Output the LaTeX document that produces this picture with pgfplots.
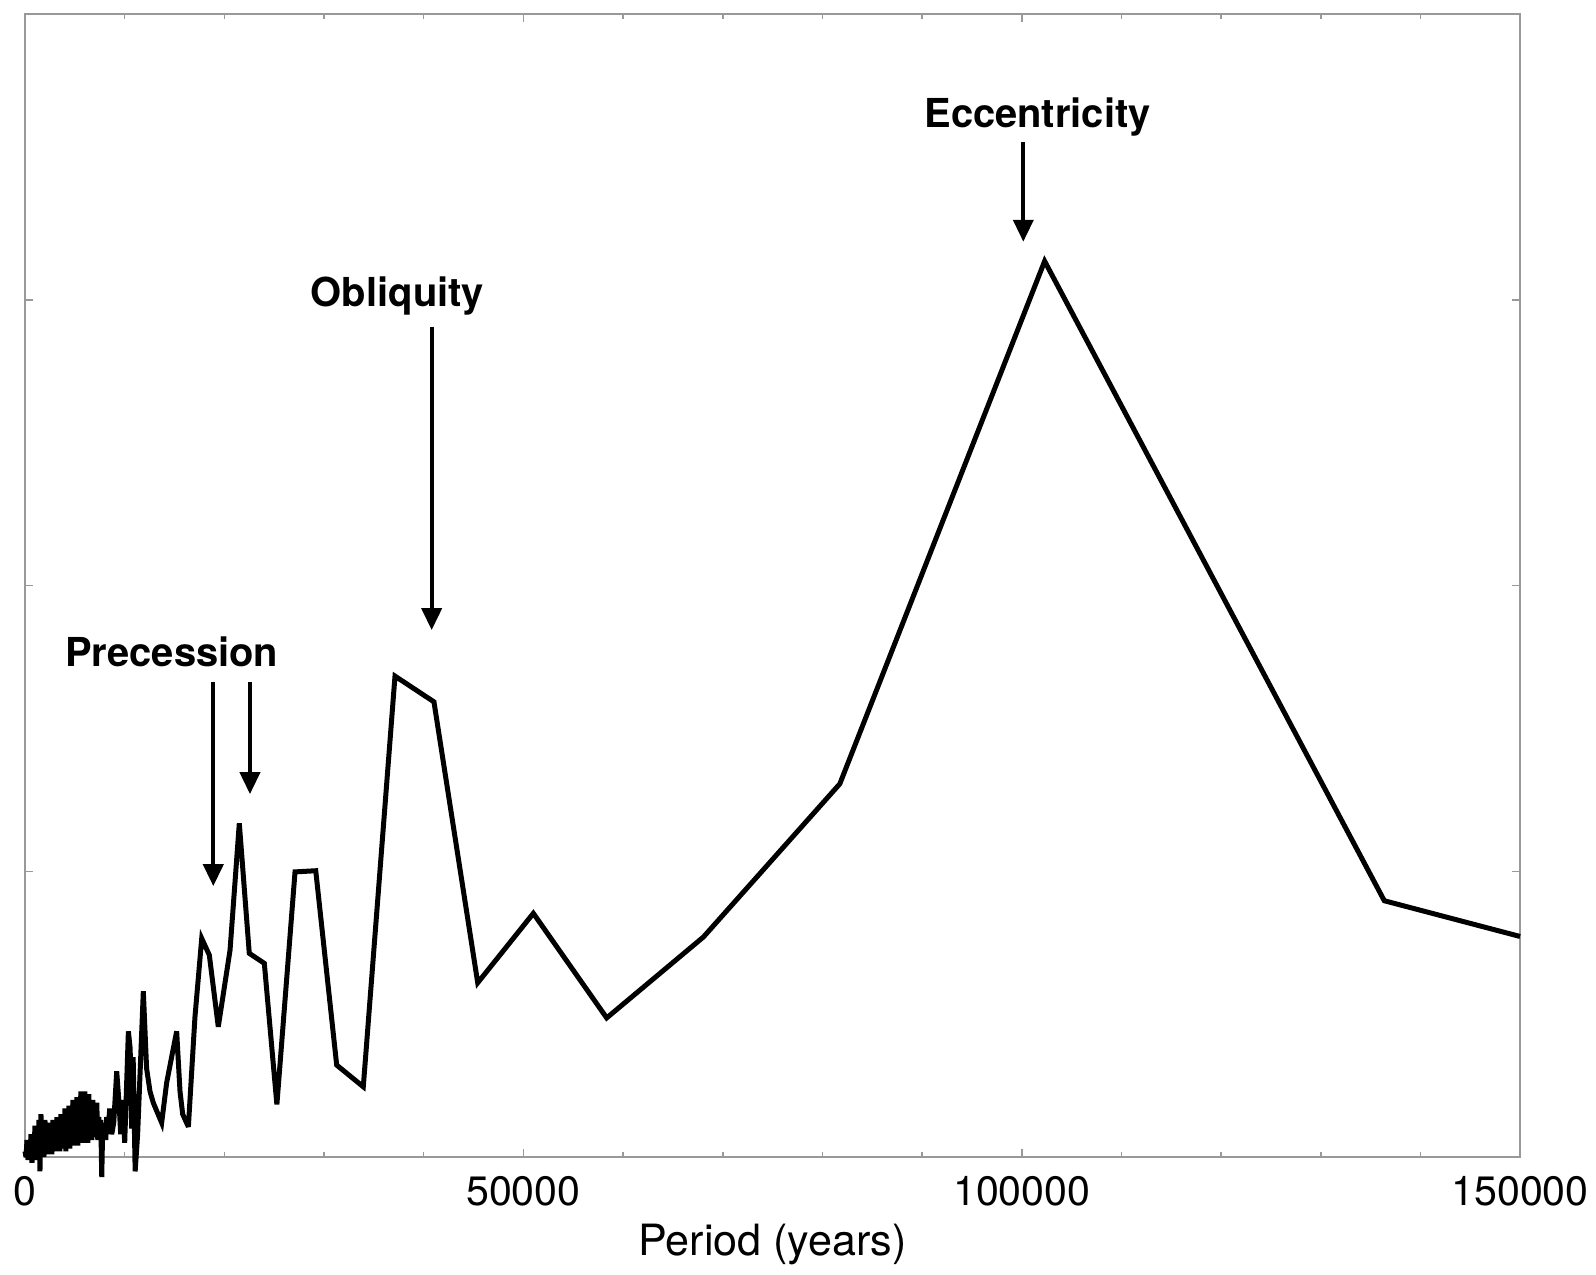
\documentclass[border=0pt]{standalone}
\usepackage{fontspec}
\setmainfont{TeX Gyre Heros}
\usepackage{pgfplots}
\pgfplotsset{compat=1.18}
\usetikzlibrary{arrows.meta}

\definecolor{axisgray}{gray}{0.6}

\begin{document}
\begin{tikzpicture}
% fixed page size around the axis box
\path[use as bounding box] (-6.27pt,-29.3pt) rectangle (393.73pt,290.0pt);
\begin{axis}[
  at={(0,0)}, anchor=south west,
  scale only axis,
  width=374.7pt, height=286.5pt,
  xmin=0, xmax=150000,
  ymin=0, ymax=4,
  clip=false,
  scaled ticks=false,
  xtick={0,50000,100000,150000},
  xticklabels={0,50000,100000,150000},
  minor xtick={10000,20000,30000,40000,60000,70000,80000,90000,110000,120000,130000,140000},
  ytick={1,2,3},
  yticklabels={},
  /pgf/number format/assume math mode=true,
  axis line style={axisgray, line width=0.4pt},
  tick style={axisgray, line width=0.4pt},
  major tick length=2pt,
  minor tick length=1.2pt,
  tick align=inside,
  xticklabel style={anchor=center, yshift=-8.5pt, font=\fontsize{10.3}{12}\selectfont},
  xlabel={Period (years)},
  xlabel style={at={(axis description cs:0.5,0)}, anchor=center, yshift=-22pt, font=\fontsize{10.8}{13}\selectfont},
]
\addplot[black, line width=1.25pt, line join=miter, miter limit=4, mark=none] coordinates {
(0,0.02) (100,0.00) (200,0.06) (300,-0.01) (400,0.04) (500,0.01) (600,0.08) (700,-0.02)
(800,0.06) (900,0.02) (1000,0.11) (1100,-0.01) (1200,0.07) (1300,0.03) (1400,0.13) (1500,-0.05)
(1600,0.15) (1700,0.02) (1800,0.10) (1900,0.00) (2000,0.13) (2100,0.03) (2200,0.09) (2300,0.01)
(2400,0.12) (2500,0.02) (2600,0.10) (2700,0.01) (2800,0.13) (2900,0.03) (3000,0.10) (3100,0.02)
(3200,0.14) (3300,0.03) (3400,0.11) (3500,0.02) (3600,0.15) (3700,0.04) (3800,0.13) (3900,0.03)
(4000,0.17) (4100,0.02) (4200,0.14) (4300,0.04) (4400,0.18) (4500,0.03) (4600,0.16) (4700,0.05)
(4800,0.20) (4900,0.04) (5000,0.17) (5100,0.06) (5200,0.21) (5300,0.04) (5400,0.19) (5500,0.05)
(5600,0.23) (5700,0.07) (5800,0.19) (5900,0.05) (6000,0.23) (6100,0.06) (6200,0.20) (6300,0.05)
(6400,0.22) (6500,0.07) (6600,0.18) (6700,0.06) (6800,0.20) (6900,0.08) (7000,0.17) (7100,0.07)
(7200,0.19) (7300,0.06) (7400,0.14) (7500,0.09) (7600,0.13) (7700,-0.07) (7800,0.12) (7900,0.07)
(8000,0.11) (8100,0.06) (8200,0.14) (8300,0.08) (8500,0.17) (8700,0.08) (8900,0.12) (9200,0.30)
(9450,0.18) (9600,0.08) (9800,0.20) (10000,0.05) (10370,0.44) (10550,0.38) (10700,0.10) (10850,0.35)
(11050,-0.05) (11300,0.08) (11870,0.58) (12200,0.31) (12540,0.23) (12870,0.19) (13710,0.12)
(14210,0.26) (14710,0.35) (15215,0.44) (15550,0.23) (15820,0.15) (16390,0.106) (17050,0.49)
(17730,0.765) (18490,0.707) (19390,0.456) (20570,0.724) (21500,1.168) (22500,0.713) (24010,0.678)
(25270,0.184) (27090,0.998) (29170,1.002) (31270,0.322) (33940,0.246) (37120,1.683) (41030,1.593)
(45420,0.610) (51000,0.853) (58360,0.487) (68060,0.770) (81750,1.306) (102300,3.135)
(136380,0.897) (150000,0.772)
};

% labels and arrows for the orbital periods
\node[anchor=base, font=\bfseries\fontsize{10}{12}\selectfont] at (axis cs:101585,3.604) {Eccentricity};
\draw[-{Triangle[length=5.5pt,width=5pt]}, line width=1pt] (axis cs:100160,3.553) -- (axis cs:100160,3.203);

\node[anchor=base, font=\bfseries\fontsize{10}{12}\selectfont] at (axis cs:37370,2.977) {Obliquity};
\draw[-{Triangle[length=5.5pt,width=5pt]}, line width=1pt] (axis cs:40800,2.906) -- (axis cs:40800,1.844);

\node[anchor=base, font=\bfseries\fontsize{10}{12}\selectfont] at (axis cs:14720,1.716) {Precession};
\draw[-{Triangle[length=5.5pt,width=5pt]}, line width=1pt] (axis cs:18890,1.662) -- (axis cs:18890,0.948);
\draw[-{Triangle[length=5.5pt,width=5pt]}, line width=1pt] (axis cs:22570,1.662) -- (axis cs:22570,1.270);
\end{axis}
\end{tikzpicture}
\end{document}
